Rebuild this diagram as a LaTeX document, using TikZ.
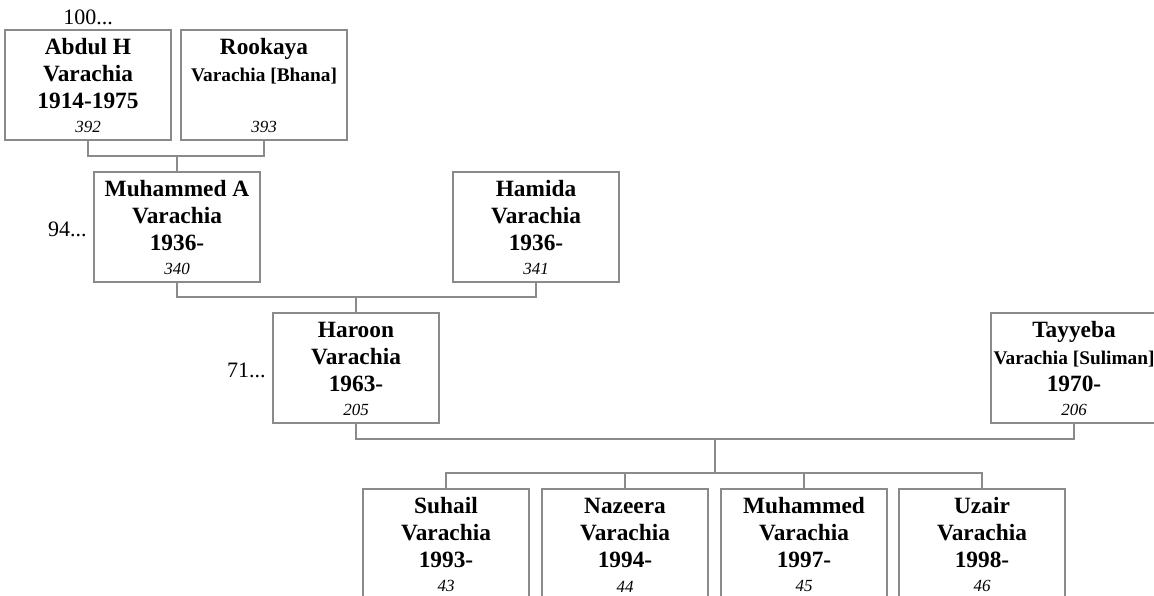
\documentclass[tikz,border=0pt]{standalone}
\usepackage{fontspec}
\setmainfont{Liberation Serif}
\usetikzlibrary{calc,positioning}
\definecolor{CardEdge}{HTML}{8A8A8A}
\definecolor{LinkGray}{HTML}{8A8A8A}
\definecolor{CardInk}{HTML}{000000}
% one card: given name, family line, years, record number
\newcommand{\card}[4]{\vbox to 82.5pt{\hsize=124.5pt\parindent=0pt\centering
  \fontsize{17.5}{20.25}\selectfont\bfseries
  \rule{0pt}{18pt}#1\par #2\par #3\par
  \vfill
  {\fontsize{12.75}{15}\selectfont\mdseries\itshape #4\par}
  \vskip 5.25pt}}
\newcommand{\maiden}[1]{{\fontsize{14.5}{20.25}\selectfont #1}}
\tikzset{
  every node/.style={text=CardInk},
  person/.style={draw=CardEdge, line width=0.9pt, fill=white, inner sep=0pt, outer sep=0pt, anchor=north west},
  link/.style={draw=LinkGray, line width=1.1pt},
  more/.style={font=\fontsize{16.5}{18}\selectfont, inner sep=0pt},
}

\begin{document}
\begin{tikzpicture}[x=0.75pt, y=-0.75pt]
  \useasboundingbox (0,0) rectangle (1154,596);
  % Grandparents
  \node[person] (abdul) at (5,30) {\card{Abdul H}{Varachia}{1914-1975}{392}};
  \node[person] (rookaya) at (181,30) {\card{Rookaya}{\maiden{Varachia [Bhana]}}{}{393}};
  \node[more, anchor=base] (gen100) at ($(abdul.north)+(0,-5)$) {100...};
  % Parents
  \node[person] (mhdA) at (94,172) {\card{Muhammed A}{Varachia}{1936-}{340}};
  \node[person] (hamida) at (453,172) {\card{Hamida}{Varachia}{1936-}{341}};
  \node[more, anchor=base east] (gen94) at ($(mhdA.west)+(-7,9)$) {94...};
  % Couple
  \node[person] (haroon) at (273,313) {\card{Haroon}{Varachia}{1963-}{205}};
  \node[person] (tayyeba) at (991,313) {\card{Tayyeba}{\maiden{Varachia [Suliman]}}{1970-}{206}};
  \node[more, anchor=base east] (gen71) at ($(haroon.west)+(-7,9)$) {71...};
  % Children
  \node[person] (suhail) at (363,489) {\card{Suhail}{Varachia}{1993-}{43}};
  \node[person] (nazeera) at (542,489) {\card{Nazeera}{Varachia}{1994-}{44}};
  \node[person] (muhammed) at (721,489) {\card{Muhammed}{Varachia}{1997-}{45}};
  \node[person] (uzair) at (899,489) {\card{Uzair}{Varachia}{1998-}{46}};
  % Family lines
  \draw[link] (abdul.south) -- ++(0,16) coordinate (bar1) -| (rookaya.south);
  \draw[link] (mhdA.north) -- (mhdA.north |- bar1);
  \draw[link] (mhdA.south) -- ++(0,15) coordinate (bar2) -| (hamida.south);
  \draw[link] (haroon.north) -- (haroon.north |- bar2);
  \draw[link] (haroon.south) -- ++(0,16) coordinate (bar3) -| (tayyeba.south);
  \coordinate (drop) at ($(haroon.south)!0.5!(tayyeba.south)+(0,16)$);
  \draw[link] (drop) -- ++(0,34) coordinate (kids);
  \draw[link] (suhail.north) -- (suhail.north |- kids) -- (uzair.north |- kids) -- (uzair.north);
  \foreach \kid in {nazeera, muhammed} {
    \draw[link] (\kid.north) -- (\kid.north |- kids);
  }
\end{tikzpicture}
\end{document}
